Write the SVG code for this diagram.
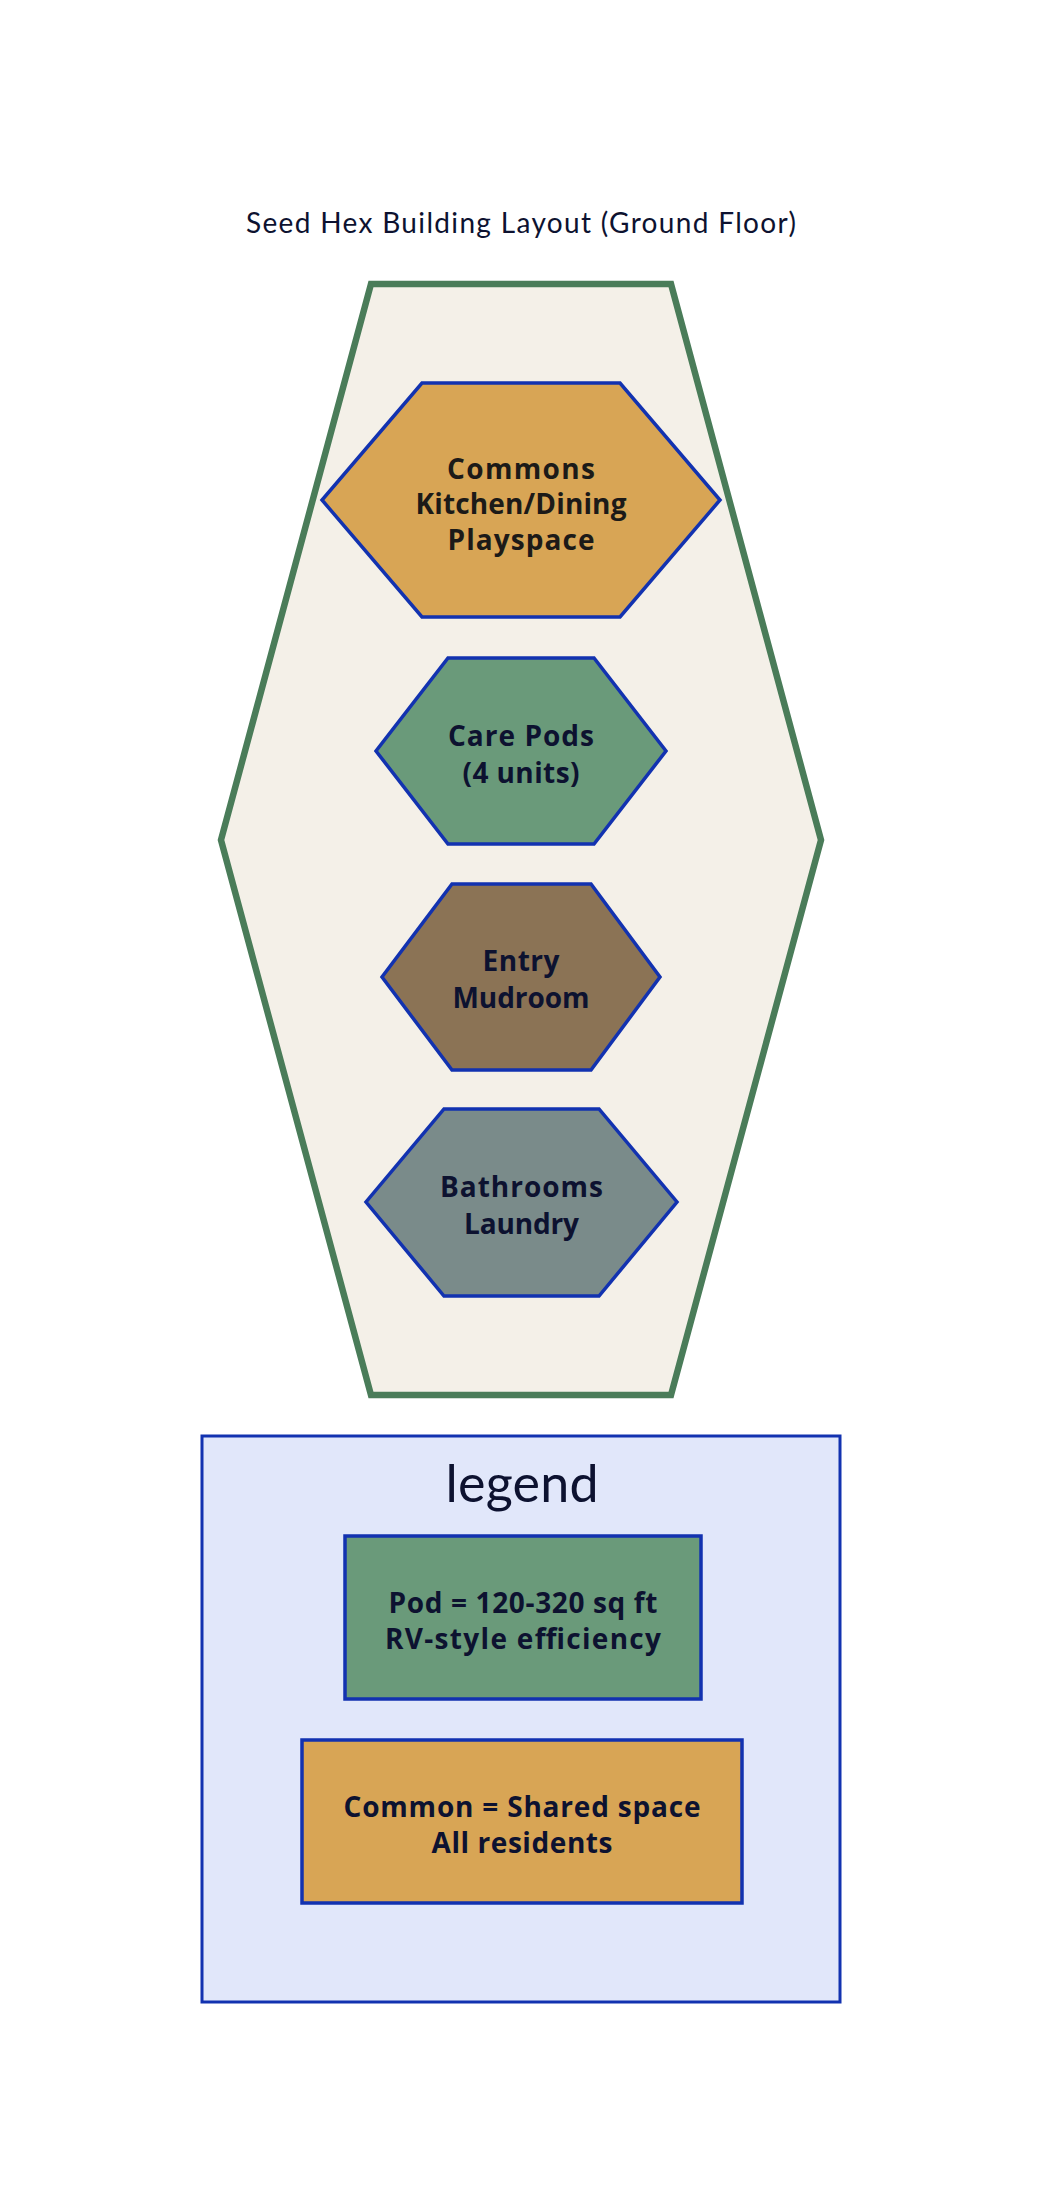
<svg xmlns="http://www.w3.org/2000/svg" width="1042" height="2206" viewBox="0 0 1042 2206">
<style>
.bg{fill:#ffffff}
.outer{fill:#f4f0e8;stroke:#4a7c59;stroke-width:6.5;stroke-linejoin:miter}
.room{stroke:#1232b0;stroke-width:3.5;stroke-linejoin:miter}
.commons{fill:#d8a555}
.pods{fill:#6a9a7a}
.entry{fill:#8b7355}
.bath{fill:#7a8b8a}
.legendbox{fill:#e1e7fa;stroke:#1232b0;stroke-width:3}
.lbl{font-family:"Open Sans","Noto Sans","Liberation Sans",sans-serif;font-weight:bold;font-size:28px;fill:#0d1230;text-anchor:middle}
.dark{fill:#1c1a18}
.title{font-family:Lato,"Open Sans","Liberation Sans",sans-serif;font-size:28px;fill:#0d1230;text-anchor:middle}
.legtitle{font-family:Lato,"Open Sans","Liberation Sans",sans-serif;font-size:52px;fill:#0d1230;text-anchor:middle}
</style>
<rect class="bg" x="0" y="0" width="1042" height="2206"/>
<text class="title" x="521" y="233" textLength="550">Seed Hex Building Layout (Ground Floor)</text>
<g id="building">
<polygon class="outer" points="371,284 671,284 821,840 671,1395 371,1395 221,840"/>
</g>
<g id="commons">
<polygon class="room commons" points="422,383 620,383 720,500 620,617 422,617 322,500"/>
<text class="lbl dark" x="521" y="479" textLength="148">Commons</text>
<text class="lbl dark" x="521" y="514" textLength="211">Kitchen/Dining</text>
<text class="lbl dark" x="521" y="550" textLength="147">Playspace</text>
</g>
<g id="pods">
<polygon class="room pods" points="448,658 594,658 666,751 594,844 448,844 376,751"/>
<text class="lbl" x="521" y="746" textLength="146">Care Pods</text>
<text class="lbl" x="521" y="783" textLength="117">(4 units)</text>
</g>
<g id="entry">
<polygon class="room entry" points="452,884 591,884 660,977 591,1070 452,1070 382,977"/>
<text class="lbl" x="521" y="971" textLength="77">Entry</text>
<text class="lbl" x="521" y="1008" textLength="137">Mudroom</text>
</g>
<g id="bath">
<polygon class="room bath" points="444,1109 599,1109 677,1202 599,1296 444,1296 366,1202"/>
<text class="lbl" x="521.5" y="1197" textLength="163">Bathrooms</text>
<text class="lbl" x="521.5" y="1234" textLength="115">Laundry</text>
</g>
<g id="connectors"></g>
<g id="legend">
<rect class="legendbox" x="202" y="1436" width="638" height="566"/>
<text class="legtitle" x="522" y="1502" textLength="153">legend</text>
<g id="legend-pod">
<rect class="room pods" x="345" y="1536" width="356" height="163"/>
<text class="lbl" x="523" y="1613" textLength="269">Pod = 120-320 sq ft</text>
<text class="lbl" x="523" y="1649" textLength="276">RV-style efficiency</text>
</g>
<g id="legend-common">
<rect class="room commons" x="302" y="1740" width="440" height="163"/>
<text class="lbl" x="522" y="1817" textLength="357">Common = Shared space</text>
<text class="lbl" x="522" y="1853" textLength="181">All residents</text>
</g>
</g>
</svg>
